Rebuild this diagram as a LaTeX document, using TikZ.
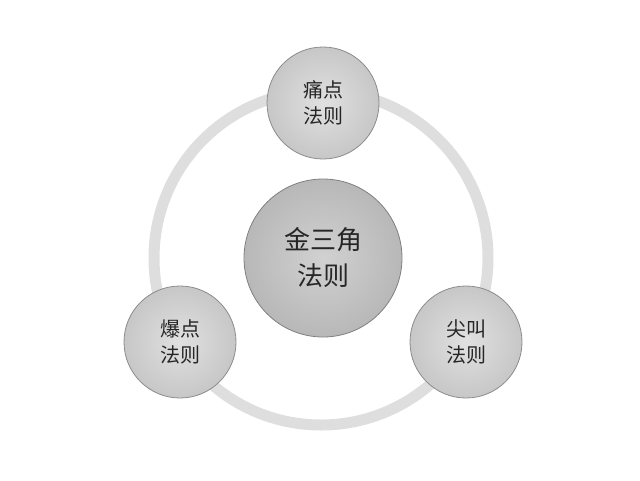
\documentclass[tikz,border=0pt]{standalone}
\usepackage{fontspec}
\newfontfamily\cjk{Noto Sans CJK SC}
\begin{document}
\begin{tikzpicture}[x=1pt,y=-1pt,
  small/.style={circle,draw=black!45,line width=0.8pt,inner color=black!12,outer color=black!22,minimum size=112pt,font=\cjk\fontsize{20}{26}\selectfont,align=center,text=black!85},
  big/.style={circle,draw=black!50,line width=0.8pt,inner color=black!18,outer color=black!28,minimum size=158pt,font=\cjk\fontsize{26}{36}\selectfont,align=center,text=black!85}]
\useasboundingbox (0,0) rectangle (640,480);
\draw[line width=11pt,black!13] (321,258) circle (167);
\node[big] (c) at (323,258) {金三角\\法则};
\node[small] (t) at (323,103) {痛点\\法则};
\node[small] (l) at (180,342) {爆点\\法则};
\node[small] (r) at (466,342) {尖叫\\法则};
\end{tikzpicture}
\end{document}
